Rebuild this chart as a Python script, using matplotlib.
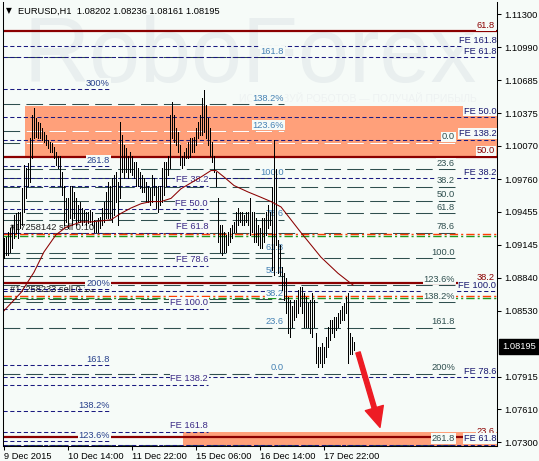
import matplotlib
matplotlib.use("Agg")
import matplotlib.pyplot as plt
from matplotlib.patches import Rectangle
import matplotlib.transforms as mtransforms

plt.rcParams['font.family'] = ['Liberation Sans', 'DejaVu Sans']

# ---------------- data ----------------
title_symbol = "EURUSD,H1"
title_ohlc = "1.08202 1.08236 1.08161 1.08195"
last_price = 1.08195

highs = [
    1.0921, 1.0922, 1.0927, 1.0930, 1.0933, 1.0942, 1.0944, 1.0945, 1.0945, 1.0968,
    1.0989, 1.0986, 1.0991, 1.1014, 1.1036, 1.1042, 1.1033, 1.1029, 1.1028, 1.1024,
    1.1020, 1.1017, 1.1013, 1.1011, 1.1010, 1.1006, 1.1001, 1.0998, 1.0998, 1.0983,
    1.0970, 1.0958, 1.0958, 1.0970, 1.0970, 1.0964, 1.0958, 1.0952, 1.0955, 1.0949,
    1.0947, 1.0945, 1.0945, 1.0947, 1.0945, 1.0938, 1.0936, 1.0940, 1.0941, 1.0949,
    1.0955, 1.0964, 1.0973, 1.0970, 1.0977, 1.0980, 1.0983, 1.0973, 1.1029, 1.1017,
    1.1008, 1.1005, 1.0998, 1.1001, 1.0998, 1.0992, 1.0992, 1.0986, 1.0983, 1.0980,
    1.0977, 1.0973, 1.0970, 1.0968, 1.0980, 1.0977, 1.0970, 1.0970, 1.0970, 1.0986,
    1.0992, 1.0992, 1.0998, 1.1036, 1.1048, 1.1036, 1.1024, 1.1020, 1.1008, 1.0998,
    1.1001, 1.1005, 1.1011, 1.1014, 1.1014, 1.1015, 1.1024, 1.1029, 1.1036, 1.1052,
    1.1059, 1.1045, 1.1033, 1.1024, 1.1011, 1.0998, 1.0983, 1.0958, 1.0933, 1.0933,
    1.0927, 1.0924, 1.0927, 1.0930, 1.0933, 1.0936, 1.0945, 1.0949, 1.0945, 1.0945,
    1.0942, 1.0945, 1.0945, 1.0958, 1.0945, 1.0945, 1.0940, 1.0933, 1.0930, 1.0940,
    1.0940, 1.0945, 1.0952, 1.0945, 1.0969, 1.1013, 1.0985, 1.0919, 1.0914, 1.0894,
    1.0888, 1.0884, 1.0866, 1.0863, 1.0857, 1.0863, 1.0863, 1.0872, 1.0875, 1.0875,
    1.0870, 1.0866, 1.0860, 1.0863, 1.0870, 1.0863, 1.0832, 1.0819, 1.0819, 1.0823,
    1.0819, 1.0828, 1.0838, 1.0844, 1.0844, 1.0847, 1.0847, 1.0851, 1.0854, 1.0857,
    1.0860, 1.0866, 1.0870, 1.0832, 1.0828, 1.0824]

lows = [
    1.0902, 1.0905, 1.0905, 1.0908, 1.0912, 1.0921, 1.0926, 1.0921, 1.0930, 1.0933,
    1.0945, 1.0958, 1.0970, 1.0973, 1.0996, 1.1014, 1.1015, 1.1014, 1.1014, 1.1013,
    1.1011, 1.1008, 1.1005, 1.1001, 1.1001, 1.0996, 1.0989, 1.0986, 1.0970, 1.0961,
    1.0933, 1.0936, 1.0930, 1.0940, 1.0933, 1.0940, 1.0933, 1.0936, 1.0936, 1.0933,
    1.0936, 1.0933, 1.0935, 1.0936, 1.0933, 1.0927, 1.0927, 1.0927, 1.0930, 1.0933,
    1.0936, 1.0940, 1.0940, 1.0940, 1.0936, 1.0942, 1.0955, 1.0933, 1.0958, 1.0983,
    1.0977, 1.0983, 1.0977, 1.0983, 1.0980, 1.0977, 1.0970, 1.0970, 1.0968, 1.0964,
    1.0964, 1.0955, 1.0955, 1.0952, 1.0955, 1.0961, 1.0949, 1.0945, 1.0952, 1.0955,
    1.0961, 1.0970, 1.0980, 1.0986, 1.1014, 1.1011, 1.1008, 1.1001, 1.0989, 1.0986,
    1.0989, 1.0996, 1.0996, 1.0997, 1.1001, 1.1001, 1.1008, 1.1014, 1.1017, 1.1017,
    1.1020, 1.1014, 1.1008, 1.0998, 1.0992, 1.0983, 1.0970, 1.0917, 1.0908, 1.0905,
    1.0908, 1.0908, 1.0914, 1.0917, 1.0921, 1.0927, 1.0927, 1.0933, 1.0936, 1.0933,
    1.0933, 1.0936, 1.0933, 1.0924, 1.0927, 1.0917, 1.0917, 1.0914, 1.0912, 1.0912,
    1.0917, 1.0924, 1.0930, 1.0933, 1.0891, 1.0886, 1.0914, 1.0888, 1.0886, 1.0872,
    1.0863, 1.0851, 1.0832, 1.0828, 1.0838, 1.0844, 1.0847, 1.0851, 1.0857, 1.0851,
    1.0838, 1.0838, 1.0838, 1.0832, 1.0828, 1.0838, 1.0804, 1.0800, 1.0804, 1.0800,
    1.0804, 1.0810, 1.0819, 1.0826, 1.0832, 1.0828, 1.0835, 1.0838, 1.0842, 1.0844,
    1.0844, 1.0851, 1.0804, 1.0813, 1.0813, 1.0816]

ma_idx = [0, 8.5, 15, 20, 26, 31, 38.5, 43.5, 53.5, 58.5, 63.5, 68.5, 73.5, 78.5, 83.5,
          88.5, 98.5, 103.5, 106, 110, 115, 122, 128.5, 133.5, 138.5, 143.5, 148.5,
          158.5, 167, 174.5]
ma_val = [1.0853, 1.0870, 1.0889, 1.0908, 1.0924, 1.0931, 1.0936, 1.0936, 1.0938, 1.0944,
          1.0949, 1.0953, 1.0955, 1.0955, 1.0958, 1.0967, 1.0978, 1.0984, 1.0984, 1.0978,
          1.0970, 1.0964, 1.0959, 1.0955, 1.0950, 1.0938, 1.0926, 1.0903, 1.0888, 1.0877]

time_labels = ["9 Dec 2015", "10 Dec 14:00", "11 Dec 22:00", "15 Dec 06:00",
               "16 Dec 14:00", "17 Dec 22:00"]
time_pos = [0, 32, 64, 96, 128, 160]
price_ticks = [1.11300, 1.10990, 1.10685, 1.10375, 1.10070, 1.09760, 1.09455,
               1.09145, 1.08840, 1.08530, 1.07915, 1.07610, 1.07300]

# Fibonacci retracement (dark red, solid)
red_labels = ["61.8", "50.0", "38.2", "23.6"]
red_prices = [1.1114, 1.0997, 1.0879, 1.0735]
# retracement, right (gray long dash)
fib_b_labels = ["0.0", "23.6", "38.2", "50.0", "61.8", "78.6", "100.0", "123.6%",
                "138.2%", "161.8", "200%", "261.8"]
fib_b_prices = [1.1010, 1.0985, 1.0969, 1.0956, 1.0944, 1.0926, 1.0902, 1.0877,
                1.0861, 1.0837, 1.0794, 1.0728]
# retracement, middle (gray long dash)
fib_c_labels = ["0.0", "23.6", "38.2", "50.0", "61.8", "78.6", "100.0", "123.6%",
                "138.2%", "161.8"]
fib_c_prices = [1.0794, 1.0837, 1.0864, 1.0885, 1.0907, 1.0938, 1.0977, 1.1021,
                1.1046, 1.1090]
# expansion, left (navy dash)
fib_d_labels = ["123.6%", "138.2%", "161.8", "200%", "261.8", "300%"]
fib_d_prices = [1.0731, 1.0759, 1.0802, 1.0873, 1.0988, 1.1060]
# FE set, middle
fe_e_labels = ["FE 38.2", "FE 50.0", "FE 61.8", "FE 78.6", "FE 100.0", "FE 138.2", "FE 161.8"]
fe_e_prices = [1.0970, 1.0948, 1.0926, 1.0895, 1.0855, 1.0784, 1.0740]
# FE set, right
fe_f_labels = ["FE 161.8", "FE 61.8", "FE 50.0", "FE 138.2", "FE 38.2", "FE 100.0",
               "FE 78.6", "FE 61.8"]
fe_f_prices = [1.1100, 1.1090, 1.1034, 1.1013, 1.0977, 1.0871, 1.0791, 1.0728]

order_labels = ["#17258142 sell 0.10", "#17258233 sell 0.10"]
order_price_a = [1.0925, 1.0867]
order_price_b = [1.0923, 1.0865]

zone_start = [10.5, 89.5]
zone_top = [1.1044, 1.0740]
zone_bottom = [1.0997, 1.0720]

arrow_from = (177, 1.0814)
arrow_to = (188, 1.0744)

# ---------------- styles ----------------
BG = '#f6fbf8'
NAVY = '#1a1a80'
GRAY = '#2F4F4F'
DRED = '#8B0000'
SALMON = '#FFA07A'
FS = 6.7
XMIN, XMAX = -0.5, 246.5
YMIN, YMAX = 1.07266, 1.11415

fig = plt.figure(figsize=(5.39, 4.61), dpi=100, facecolor=BG)
ax = fig.add_axes([3 / 539, 15 / 461, 494 / 539, 444 / 461], facecolor=BG)
ax.set_xlim(XMIN, XMAX)
ax.set_ylim(YMIN, YMAX)

ax.spines['top'].set_visible(False)
for s in ['left', 'right', 'bottom']:
    ax.spines[s].set_linewidth(0.75)
    ax.spines[s].set_zorder(20)

ax.yaxis.tick_right()
ax.set_yticks(price_ticks)
ax.set_yticklabels([f"{p:.5f}" for p in price_ticks])
ax.tick_params(axis='y', length=3, width=0.75, pad=2, labelsize=FS, direction='out')
ax.set_xticks(time_pos)
ax.set_xticklabels(time_labels, ha='left')
ax.tick_params(axis='x', length=3, width=0.75, pad=1.5, labelsize=FS, direction='out')

# watermark
ax.text(0.5, 0.875, "RoboForex", transform=ax.transAxes, ha='center', va='center',
        fontsize=66, color='#e9efef', zorder=0.5)
ax.text(0.96, 0.781, "ИСПОЛЬЗУЙ РОБОТОВ — ПОЛУЧАЙ ПРИБЫЛЬ", transform=ax.transAxes,
        ha='right', va='center', fontsize=7.5, color='#eef2f2', zorder=0.5)

# zones
zone_patches = []
for x0, top, bot in zip(zone_start, zone_top, zone_bottom):
    r = Rectangle((x0, bot), XMAX - x0, top - bot, facecolor=SALMON, edgecolor='none', zorder=1)
    ax.add_patch(r)
    zone_patches.append(r)

GRAY_DASH = (16, 6)
NAVY_DASH = (4, 2.5)


def label(x, p, text, color, z=9, dy=1.0):
    ax.annotate(text, (x, p), xytext=(0, dy), textcoords='offset points', ha='right',
                va='bottom', fontsize=FS, color=color, zorder=z,
                bbox=dict(boxstyle='square,pad=0.08', fc=BG, ec='none'))


def level_set(prices, labels, x_end, color, dashes, lbl_color, lw=0.75, z=2, zl=9, white_in_zone=False):
    for p, t in zip(prices, labels):
        ax.plot([XMIN, x_end], [p, p], color=color, lw=lw, dashes=dashes, zorder=z,
                dash_capstyle='butt')
        if white_in_zone:
            ln, = ax.plot([XMIN, x_end], [p, p], color='white', lw=lw, dashes=dashes,
                          zorder=z + 0.1, dash_capstyle='butt')
            ln.set_clip_path(zone_patches[0])
        label(x_end, p, t, lbl_color, z=zl)


level_set(fib_c_prices, fib_c_labels, 140, GRAY, GRAY_DASH, '#4682B4', white_in_zone=True)
level_set(fib_b_prices, fib_b_labels, 225.5, GRAY, GRAY_DASH, GRAY, white_in_zone=True)
level_set(fib_d_prices, fib_d_labels, 53, NAVY, NAVY_DASH, '#27408B', z=2.5)
level_set(fe_e_prices, fe_e_labels, 102, NAVY, NAVY_DASH, '#3b2a86', z=2.5)

# dark red retracement
for p, t in zip(red_prices, red_labels):
    ax.plot([XMIN, XMAX], [p, p], color=DRED, lw=1.6, zorder=3, solid_capstyle='butt')
    label(245.5, p, t, DRED, z=8.5)
# order lines
for pa, pb, t in zip(order_price_a, order_price_b, order_labels):
    ax.plot([XMIN, XMAX], [pa, pa], color='#ff3c00', lw=1.0, dashes=(6, 2.2, 1.5, 2.2), zorder=3.2)
    ax.plot([XMIN, XMAX], [pb, pb], color='#1f9a1f', lw=1.0, dashes=(6, 2.2, 1.5, 2.2), zorder=3.1)
    ax.annotate(t, (3, pa), xytext=(0, 1.5), textcoords='offset points', ha='left', va='bottom',
                fontsize=FS, color='#222222', zorder=7)

level_set(fe_f_prices, fe_f_labels, XMAX - 0.3, NAVY, NAVY_DASH, '#191970', z=2.6, zl=10)

# bars (drawn over the level labels, as in the terminal)
ax.vlines(range(len(highs)), lows, highs, color='black', lw=0.55, antialiased=False, zorder=11)
# moving average
ax.plot(ma_idx, ma_val, color=DRED, lw=0.75, zorder=11.5)

# arrow
ax.annotate('', xy=arrow_to, xytext=arrow_from,
            arrowprops=dict(arrowstyle='simple,head_width=1.35,head_length=1.45,tail_width=0.32',
                            color='#ED1C24', mutation_scale=10, shrinkA=0, shrinkB=0), zorder=12)

# current price box
trans = mtransforms.blended_transform_factory(ax.transAxes, ax.transData)
ax.text(1.0 + 5 / 494, last_price, f"{last_price:.5f}", transform=trans, ha='left', va='center',
        fontsize=FS, color='white', zorder=30, clip_on=False,
        bbox=dict(boxstyle='square,pad=0.3', fc='black', ec='black'))

# title
fig.text(6 / 539, 1 - 11 / 461, "▼", fontsize=5.5, va='center', ha='left', color='black',
         family=['DejaVu Sans'])
fig.text(18 / 539, 1 - 11 / 461, f"{title_symbol}  {title_ohlc}", fontsize=FS, va='center',
         ha='left', color='black')

fig.savefig("out.png", dpi=100, facecolor=BG)
